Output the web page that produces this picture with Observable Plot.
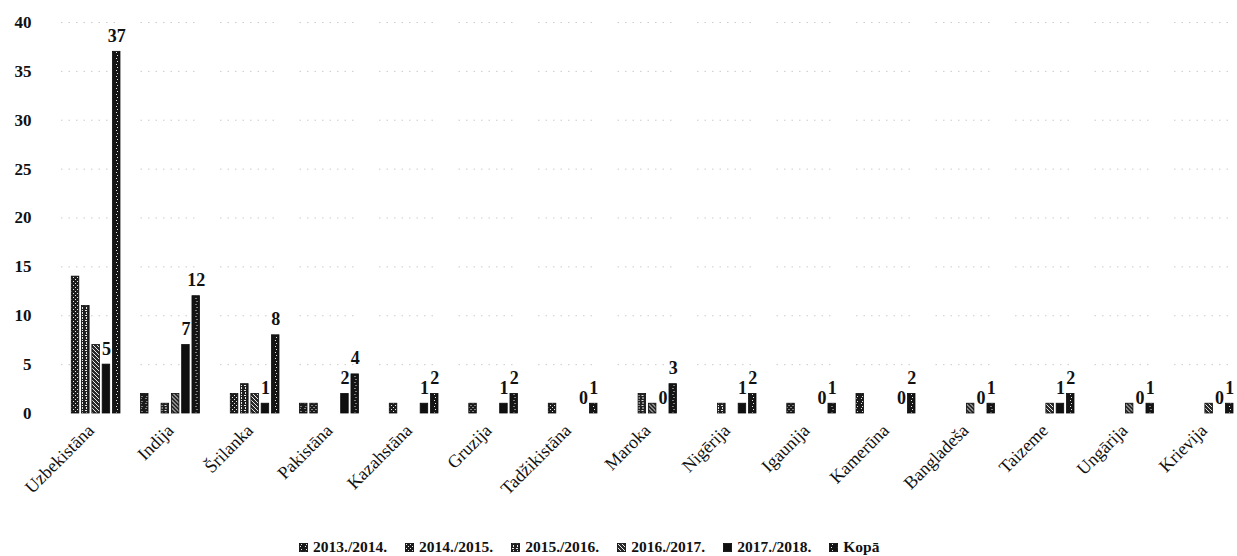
<!DOCTYPE html>
<html>
<head>
<meta charset="utf-8">
<script src="https://cdn.jsdelivr.net/npm/d3@7"></script>
<script src="https://cdn.jsdelivr.net/npm/@observablehq/plot@0.6"></script>
<style>
  html, body { margin: 0; padding: 0; background: #fff; overflow: hidden; }
  #wrap { width: 1237px; height: 556px; position: relative; }
  #legend { position: absolute; left: 299px; top: 538px; display: flex; align-items: center;
            font-family: "Liberation Serif", serif; font-weight: bold; font-size: 15.5px; color: #111; white-space: nowrap; }
  #legend .item { display: flex; align-items: center; margin-right: 18px; }
  #legend svg { margin-right: 5px; }
</style>
</head>
<body>
<div id="wrap"></div>
<script>
const countries = ["Uzbekistāna", "Indija", "Šrilanka", "Pakistāna", "Kazahstāna", "Gruzija", "Tadžikistāna",
  "Maroka", "Nigērija", "Igaunija", "Kamerūna", "Bangladeša", "Taizeme", "Ungārija", "Krievija"];
const seriesNames = ["2013./2014.", "2014./2015.", "2015./2016.", "2016./2017.", "2017./2018.", "Kopā"];
const v2013 = [0, 2, 0, 1, 0, 0, 0, 0, 0, 0, 2, 0, 0, 0, 0];
const v2014 = [14, 0, 2, 1, 1, 1, 1, 0, 0, 1, 0, 0, 0, 0, 0];
const v2015 = [11, 1, 3, 0, 0, 0, 0, 2, 1, 0, 0, 0, 0, 0, 0];
const v2016 = [7, 2, 2, 0, 0, 0, 0, 1, 0, 0, 0, 1, 1, 1, 1];
const v2017 = [5, 7, 1, 2, 1, 1, 0, 0, 1, 0, 0, 0, 1, 0, 0];
const vKopa = [37, 12, 8, 4, 2, 2, 1, 3, 2, 1, 2, 1, 2, 1, 1];
const yTicks = [0, 5, 10, 15, 20, 25, 30, 35, 40];
const labelledSeries = ["2017./2018.", "Kopā"];

const seriesValues = [v2013, v2014, v2015, v2016, v2017, vKopa];
const patternIds = ["p0", "p1", "p2", "p3", "p4", "p5"];
const fillOf = Object.fromEntries(seriesNames.map((s, j) => [s, `url(#${patternIds[j]})`]));

const data = countries.flatMap((c, i) =>
  seriesNames.map((s, j) => ({country: c, series: s, value: seriesValues[j][i]})));
const labelData = data.filter(d => labelledSeries.includes(d.series));

const chart = Plot.plot({
  width: 1237,
  height: 525,
  marginTop: 22,
  marginBottom: 112,
  marginLeft: 61,
  marginRight: 4,
  style: {fontFamily: "Liberation Serif, serif", background: "#fff", color: "#111", overflow: "visible"},
  fx: {domain: countries, paddingInner: 0.258, paddingOuter: 0, round: false, label: null},
  x: {domain: seriesNames, paddingInner: 0.27, paddingOuter: 0, round: false, axis: null},
  y: {domain: [0, 40], label: null},
  color: {type: "identity"},
  marks: [
    Plot.gridY(yTicks.filter(t => t > 0), {stroke: "#999", strokeOpacity: 0.5, strokeDasharray: "1.5,6"}),
    Plot.barY(data, {fx: "country", x: "series", y: "value", fill: d => fillOf[d.series], stroke: "#0b0b0b", strokeWidth: 0.8}),
    Plot.text(labelData, {fx: "country", x: "series", y: "value", text: d => String(d.value),
      lineAnchor: "bottom", dy: -10, fontSize: 18, fontWeight: "bold", fill: "#111"}),
    Plot.axisY(yTicks, {tickSize: 0, tickPadding: 30, fontSize: 17, fontWeight: "bold", label: null}),
    Plot.axisFx({anchor: "bottom", tickRotate: -45, tickSize: 0, tickPadding: 14, fontSize: 18, label: null})
  ]
});

// Pattern definitions (textured bar fills like the printed chart)
const ns = "http://www.w3.org/2000/svg";
const defs = document.createElementNS(ns, "defs");
function pattern(id, w, h, dots, bg) {
  const p = document.createElementNS(ns, "pattern");
  p.setAttribute("id", id);
  p.setAttribute("patternUnits", "userSpaceOnUse");
  p.setAttribute("width", w);
  p.setAttribute("height", h);
  const r = document.createElementNS(ns, "rect");
  r.setAttribute("width", w); r.setAttribute("height", h); r.setAttribute("fill", bg);
  p.appendChild(r);
  for (const [x, y, dw, dh] of dots) {
    const d = document.createElementNS(ns, "rect");
    d.setAttribute("x", x); d.setAttribute("y", y);
    d.setAttribute("width", dw); d.setAttribute("height", dh);
    d.setAttribute("fill", "#e8e8e8");
    p.appendChild(d);
  }
  defs.appendChild(p);
}
pattern("p0", 5, 5, [[2, 1, 1, 1], [1, 3, 1, 1]], "#1a1a1a");
pattern("p1", 4, 4, [[1, 1, 1, 1], [3, 3, 1, 1]], "#1c1c1c");
pattern("p2", 4, 5, [[1, 0, 2, 1], [2, 2, 1, 2]], "#202020");
pattern("p3", 4, 4, [[0, 0, 1, 1], [1, 1, 1, 1], [2, 2, 1, 1], [3, 3, 1, 1]], "#2a2a2a");
pattern("p4", 4, 4, [], "#101010");
pattern("p5", 6, 6, [[3, 1, 1, 1], [2, 4, 1, 1]], "#141414");
chart.insertBefore(defs, chart.firstChild);

const wrap = document.getElementById("wrap");
wrap.appendChild(chart);

// Legend
const legend = document.createElement("div");
legend.id = "legend";
seriesNames.forEach((s, j) => {
  const item = document.createElement("div");
  item.className = "item";
  item.innerHTML = `<svg width="9" height="9"><rect x="0.4" y="0.4" width="8.2" height="8.2" fill="url(#${patternIds[j]})" stroke="#0b0b0b" stroke-width="0.8"/></svg><span>${s}</span>`;
  legend.appendChild(item);
});
wrap.appendChild(legend);
</script>
</body>
</html>
